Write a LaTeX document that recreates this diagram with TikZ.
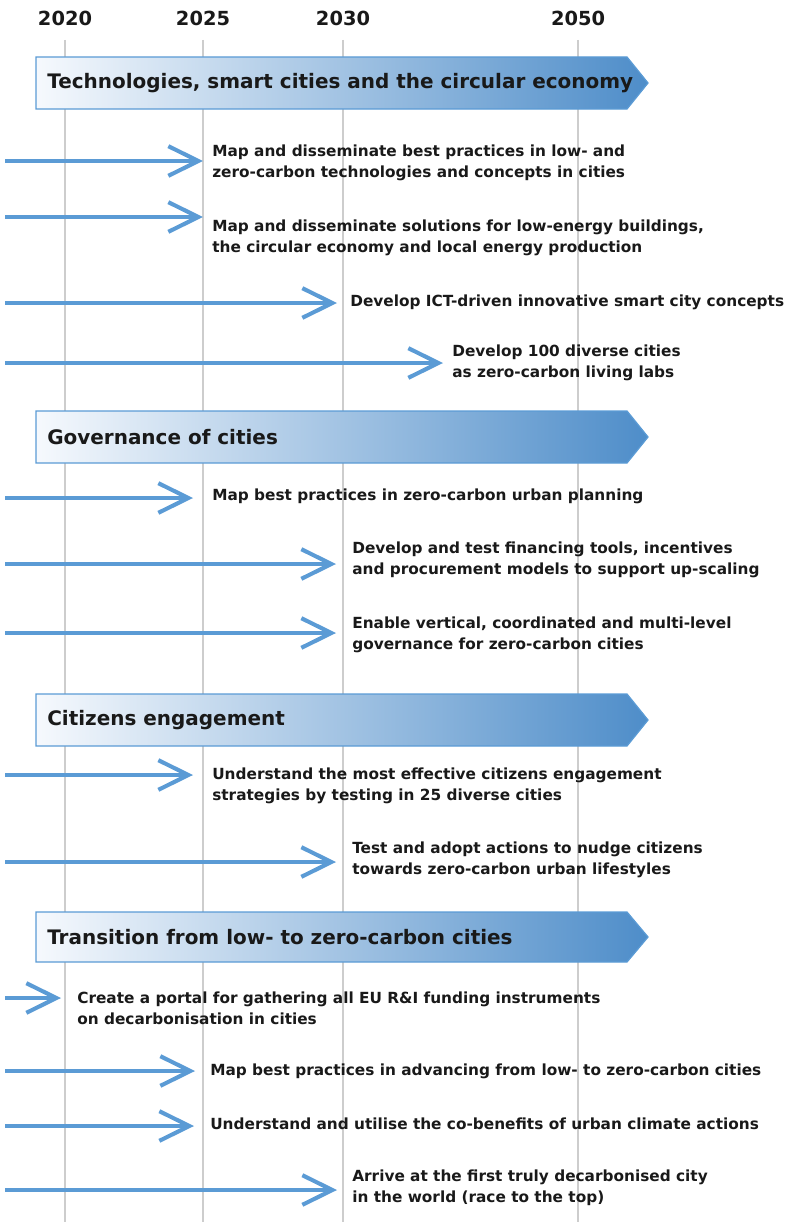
\documentclass[tikz,border=0pt]{standalone}
\usepackage{fontspec}
\setmainfont{DejaVu Sans}
\usetikzlibrary{arrows.meta}
\definecolor{roadBlue}{RGB}{91,155,213}
\definecolor{roadDeep}{RGB}{78,141,201}
\definecolor{roadPale}{RGB}{246,249,253}
\definecolor{roadGrid}{RGB}{205,205,205}
\definecolor{roadText}{RGB}{25,25,25}

\begin{document}
\begin{tikzpicture}[
    x=0.025cm, y=-0.025cm,
    year/.style={font=\fontsize{13.8}{16}\selectfont\bfseries,text=roadText},
    grid/.style={roadGrid,line width=1.1pt},
    banner/.style={draw=roadBlue,line width=0.9pt,left color=roadPale,right color=roadDeep},
    title/.style={anchor=west,inner sep=0pt,font=\fontsize{14.2}{17}\selectfont\bfseries,text=roadText},
    action/.style={anchor=west,inner sep=0pt,align=left,font=\fontsize{10.9}{14.9}\selectfont\bfseries,text=roadText},
    arrow/.style={-{Straight Barb[length=7.5mm,width=7.4mm]},line width=2.9pt,roadBlue}
  ]
  \useasboundingbox (0,0) rectangle (785,1222);

  % years and grid
  \node[year] (y2020) at (65,18) {2020};
  \node[year] (y2025) at (203,18) {2025};
  \node[year] (y2030) at (343,18) {2030};
  \node[year] (y2050) at (578,18) {2050};
  \foreach \yr in {y2020,y2025,y2030,y2050}
    \draw[grid] (\yr) ++(0,22) -- (\yr |- 0,1222);

  % Technologies, smart cities and the circular economy
  \draw[banner] (36,57) -- (627,57) -- (648,83) -- (627,109) -- (36,109) -- cycle;
  \node[title] (tech) at (47,83) {Technologies, smart cities and the circular economy};

  \node[action] (t1) at (212,163) {Map and disseminate best practices in low- and\\zero-carbon technologies and concepts in cities};
  \coordinate (s1) at (5,161);  \coordinate (e1) at (203,161);
  \draw[arrow] (s1) -- (e1);
  \node[action] (t2) at (212,238) {Map and disseminate solutions for low-energy buildings,\\the circular economy and local energy production};
  \coordinate (s2) at (5,217);  \coordinate (e2) at (203,217);
  \draw[arrow] (s2) -- (e2);
  \node[action] (t3) at (350,302) {Develop ICT-driven innovative smart city concepts};
  \coordinate (s3) at (5,303);  \coordinate (e3) at (337,303);
  \draw[arrow] (s3) -- (e3);
  \node[action] (t4) at (452,363) {Develop 100 diverse cities\\as zero-carbon living labs};
  \coordinate (s4) at (5,363);  \coordinate (e4) at (443,363);
  \draw[arrow] (s4) -- (e4);

  % Governance of cities
  \draw[banner] (36,411) -- (627,411) -- (648,437) -- (627,463) -- (36,463) -- cycle;
  \node[title] (gov) at (47,437) {Governance of cities};

  \node[action] (t5) at (212,496) {Map best practices in zero-carbon urban planning};
  \coordinate (s5) at (5,498);  \coordinate (e5) at (193,498);
  \draw[arrow] (s5) -- (e5);
  \node[action] (t6) at (352,560) {Develop and test financing tools, incentives\\and procurement models to support up-scaling};
  \coordinate (s6) at (5,564);  \coordinate (e6) at (336,564);
  \draw[arrow] (s6) -- (e6);
  \node[action] (t7) at (352,635) {Enable vertical, coordinated and multi-level\\governance for zero-carbon cities};
  \coordinate (s7) at (5,633);  \coordinate (e7) at (336,633);
  \draw[arrow] (s7) -- (e7);

  % Citizens engagement
  \draw[banner] (36,694) -- (627,694) -- (648,720) -- (627,746) -- (36,746) -- cycle;
  \node[title] (cit) at (47,720) {Citizens engagement};

  \node[action] (t8) at (212,786) {Understand the most effective citizens engagement\\strategies by testing in 25 diverse cities};
  \coordinate (s8) at (5,775);  \coordinate (e8) at (193,775);
  \draw[arrow] (s8) -- (e8);
  \node[action] (t9) at (352,860) {Test and adopt actions to nudge citizens\\towards zero-carbon urban lifestyles};
  \coordinate (s9) at (5,862);  \coordinate (e9) at (336,862);
  \draw[arrow] (s9) -- (e9);

  % Transition from low- to zero-carbon cities
  \draw[banner] (36,912) -- (627,912) -- (648,937) -- (627,962) -- (36,962) -- cycle;
  \node[title] (trans) at (47,937) {Transition from low- to zero-carbon cities};

  \node[action] (t10) at (77,1008) {Create a portal for gathering all EU R\&I funding instruments\\on decarbonisation in cities};
  \coordinate (s10) at (5,998);  \coordinate (e10) at (61,998);
  \draw[arrow] (s10) -- (e10);
  \node[action] (t11) at (210,1071) {Map best practices in advancing from low- to zero-carbon cities};
  \coordinate (s11) at (5,1071);  \coordinate (e11) at (195,1071);
  \draw[arrow] (s11) -- (e11);
  \node[action] (t12) at (210,1124) {Understand and utilise the co-benefits of urban climate actions};
  \coordinate (s12) at (5,1126);  \coordinate (e12) at (194,1126);
  \draw[arrow] (s12) -- (e12);
  \node[action] (t13) at (352,1188) {Arrive at the first truly decarbonised city\\in the world (race to the top)};
  \coordinate (s13) at (5,1190);  \coordinate (e13) at (337,1190);
  \draw[arrow] (s13) -- (e13);
\end{tikzpicture}
\end{document}
